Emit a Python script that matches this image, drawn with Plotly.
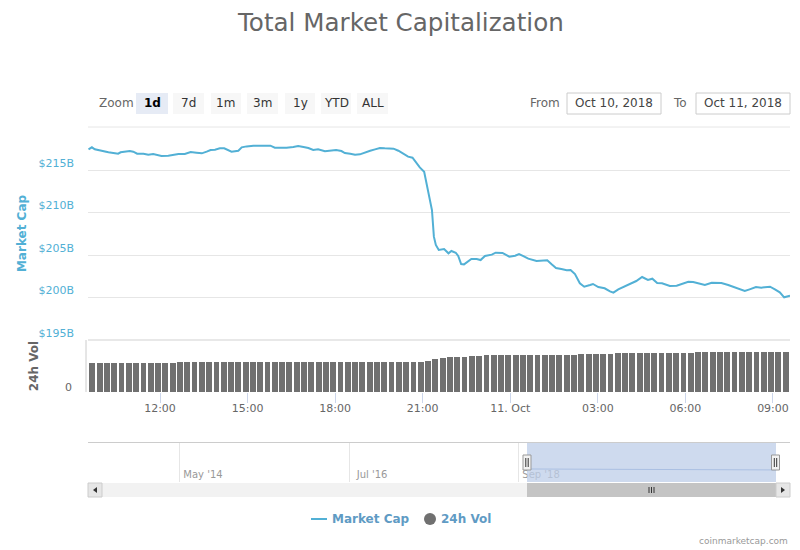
import pandas as pd
import plotly.graph_objects as go

# ---------- data ----------
cap_times_oct10 = ["09:33","09:40","09:46","09:57","10:04","10:14","10:24","10:34","10:39","10:48","10:58","11:05","11:13","11:26","11:36","11:46","11:57","12:03","12:17","12:27","12:38","12:51","13:03","13:15","13:26","13:36","13:44","13:53","14:03","14:12","14:20","14:27","14:41","14:48","14:58","15:12","15:29","15:39","15:47","15:56","16:07","16:20","16:34","16:44","16:55","17:05","17:15","17:25","17:39","17:49","18:02","18:13","18:20","18:31","18:41","18:51","19:01","19:12","19:22","19:32","19:42","20:00","20:10","20:20","20:30","20:39","20:48","20:54","21:03","21:08","21:15","21:19","21:23","21:27","21:33","21:44","21:53","21:59","22:08","22:13","22:19","22:25","22:40","22:51","22:59","23:08","23:22","23:30","23:44","23:58"]
cap_values_oct10 = [217.43,217.67,217.43,217.27,217.23,217.08,217.0,216.92,217.08,217.12,217.23,217.16,216.92,216.92,216.8,216.88,216.76,216.65,216.69,216.76,216.88,216.88,217.12,217.04,216.96,217.16,217.35,217.39,217.55,217.55,217.35,217.16,217.27,217.67,217.78,217.86,217.86,217.82,217.86,217.63,217.59,217.63,217.71,217.82,217.71,217.59,217.35,217.43,217.2,217.23,217.35,217.23,217.0,216.92,216.8,216.84,217.08,217.27,217.43,217.59,217.55,217.51,217.27,216.96,216.57,216.45,215.71,215.31,214.8,213.43,211.47,210.29,207.16,206.18,205.59,205.71,205.2,205.47,205.27,204.88,203.94,203.9,204.53,204.53,204.41,204.88,205.04,205.27,205.25,204.8]
cap_times_oct11 = ["00:10","00:18","00:27","00:37","00:54","01:08","01:16","01:25","01:34","01:45","01:56","02:04","02:13","02:23","02:32","02:44","02:50","03:01","03:14","03:25","03:32","03:42","03:52","04:06","04:19","04:31","04:43","04:52","05:02","05:12","05:28","05:42","05:52","06:06","06:16","06:26","06:40","06:54","07:14","07:28","07:45","08:02","08:12","08:25","08:36","08:54","09:04","09:14","09:23","09:35"]
cap_values_oct11 = [204.92,205.12,204.88,204.57,204.29,204.29,204.37,203.9,203.47,203.35,203.2,203.24,202.76,201.67,201.27,201.47,201.59,201.23,201.08,200.72,200.57,200.96,201.2,201.59,201.94,202.41,202.06,202.21,201.7,201.67,201.35,201.39,201.59,201.86,201.82,201.67,201.47,201.74,201.7,201.47,201.16,200.76,200.96,201.23,201.16,201.27,200.96,200.61,200.02,200.22]

vol_values = [11.05,11.05,11.05,11.05,11.05,11.05,11.05,11.05,11.05,11.05,11.05,11.05,
              11.4,11.4,11.4,11.4,11.4,11.4,11.4,11.4,11.4,11.4,11.4,11.4,11.4,11.4,11.4,11.4,11.4,
              11.4,11.4,11.4,11.4,11.4,11.4,11.4,11.4,11.4,11.4,11.4,11.4,11.4,11.4,11.4,11.4,11.4,
              11.9,12.7,13.1,13.46,13.65,13.65,13.85,13.85,14.05,
              14.2,14.2,14.2,14.2,14.2,14.2,14.2,14.2,14.2,14.2,14.2,14.2,
              14.6,14.6,14.6,14.6,14.6,
              15.1,15.1,15.1,15.1,15.1,15.1,15.1,15.1,15.1,15.1,15.1,
              15.45,15.45,15.45,15.45,15.45,15.45,15.45,15.45,15.45,15.45,15.45,15.45,15.45]

x_tick_times = ["2018-10-10 12:00","2018-10-10 15:00","2018-10-10 18:00","2018-10-10 21:00","2018-10-11 00:00","2018-10-11 03:00","2018-10-11 06:00","2018-10-11 09:00"]
x_tick_labels = ["12:00","15:00","18:00","21:00","11. Oct","03:00","06:00","09:00"]
cap_ticks = [195,200,205,210,215,220]
cap_labels = ["$195B","$200B","$205B","$210B","$215B",""]

nav_times = ["2018-10-13","2020-05-20","2021-12-23"]
nav_values = [217,210,201]
nav_ticks = ["2014-05-01","2016-07-01","2018-09-01"]
nav_labels = ["May '14","Jul '16","Sep '18"]
range_buttons = ["1d","7d","1m","3m","1y","YTD","ALL"]
button_left = [136,173,211,247,285,321,357]
button_right = [168,204,241,278,315,351,388]

# ---------- helpers ----------
FONT = "DejaVu Sans"
PX = lambda x: x / 800
PY = lambda y: 1 - y / 550
cap_x = [f"2018-10-10 {t}" for t in cap_times_oct10] + [f"2018-10-11 {t}" for t in cap_times_oct11]
cap_y = cap_values_oct10 + cap_values_oct11
vol_x = pd.date_range("2018-10-10 09:41", periods=len(vol_values), freq="15min")

fig = go.Figure()
fig.add_trace(go.Scatter(x=cap_x, y=cap_y, mode="lines", name="Market Cap",
                         line=dict(color="#52b0d5", width=2), xaxis="x", yaxis="y"))
fig.add_trace(go.Bar(x=vol_x, y=vol_values, name="24h Vol", marker=dict(color="#707070", line_width=0),
                     width=720000, xaxis="x2", yaxis="y2"))
fig.add_trace(go.Scatter(x=nav_times, y=nav_values, mode="lines",
                         line=dict(color="#6f93cf", width=1), xaxis="x3", yaxis="y3"))

shapes, annots = [], []
def rect(x0, y0, x1, y1, fill, line=None, w=1):
    shapes.append(dict(type="rect", xref="paper", yref="paper", x0=PX(x0), x1=PX(x1), y0=PY(y0), y1=PY(y1),
                       fillcolor=fill, line=dict(color=line or fill, width=w if line else 0), layer="above"))
def seg(x0, y0, x1, y1, color, w=1):
    shapes.append(dict(type="line", xref="paper", yref="paper", x0=PX(x0), x1=PX(x1), y0=PY(y0), y1=PY(y1),
                       line=dict(color=color, width=w), layer="above"))
def text(x, y, s, size=12, color="#666666", anchor="center", bold=False):
    annots.append(dict(xref="paper", yref="paper", x=PX(x), y=PY(y), text=f"<b>{s}</b>" if bold else s,
                       showarrow=False, xanchor=anchor, yanchor="middle",
                       font=dict(family=FONT, size=size, color=color)))

# title and credit
text(400, 22, "Total Market Capitalization", size=24.6, color="#666666")
text(790, 541, "coinmarketcap.com", size=9, color="#999999", anchor="right")

# range selector
text(97, 103, "Zoom", size=12, anchor="left")
for i, b in enumerate(range_buttons):
    rect(button_left[i], 93, button_right[i], 114, "#e6ebf5" if i == 0 else "#f7f7f7")
    text((button_left[i] + button_right[i]) / 2, 103, b, size=12, color="#000000" if i == 0 else "#333333", bold=i == 0)

# date inputs
text(545, 103, "From", size=12)
text(680, 103, "To", size=12)
rect(567, 93, 661, 114, "#ffffff", "#cccccc")
rect(696, 93, 790, 114, "#ffffff", "#cccccc")
text(614, 103, "Oct 10, 2018", size=12, color="#444444")
text(743, 103, "Oct 11, 2018", size=12, color="#444444")

# edge gridlines and volume panel left rule
seg(88, 127, 790, 127, "#e6e6e6")
seg(88, 340, 790, 340, "#e0e0e0", 1.5)
seg(86, 340, 86, 392, "#cccccc")

# navigator
seg(88, 442.5, 790, 442.5, "#cccccc")
rect(527, 443, 776, 482, "rgba(190,206,232,0.75)")
for hx in (527, 775.5):
    rect(hx - 4, 455, hx + 4, 470, "#f2f2f2", "#999999")
    seg(hx - 1.2, 458, hx - 1.2, 467, "#333333")
    seg(hx + 1.2, 458, hx + 1.2, 467, "#333333")

# scrollbar
rect(88, 483, 790, 497, "#f2f2f2")
rect(527, 483, 776, 497, "#c4c4c4")
rect(88, 483, 102, 497, "#e6e6e6", "#cccccc")
rect(776, 483, 790, 497, "#e6e6e6", "#cccccc")
for gx in (649, 651.5, 654):
    seg(gx, 487, gx, 493, "#333333")
shapes.append(dict(type="path", xref="paper", yref="paper", layer="above",
                   path=f"M {PX(97)} {PY(487)} L {PX(97)} {PY(493)} L {PX(93)} {PY(490)} Z",
                   fillcolor="#333333", line_width=0))
shapes.append(dict(type="path", xref="paper", yref="paper", layer="above",
                   path=f"M {PX(781)} {PY(487)} L {PX(781)} {PY(493)} L {PX(785)} {PY(490)} Z",
                   fillcolor="#333333", line_width=0))

# legend
seg(311, 519, 327, 519, "#52b0d5", 2)
text(330, 519, "Market Cap", size=12, color="#5f9bc4", anchor="left", bold=True)
shapes.append(dict(type="circle", xref="paper", yref="paper", x0=PX(424), x1=PX(436), y0=PY(525), y1=PY(513),
                   fillcolor="#707070", line_width=0, layer="above"))
text(439, 519, "24h Vol", size=12, color="#5f9bc4", anchor="left", bold=True)

time_range = ["2018-10-10 09:32", "2018-10-11 09:35"]
fig.update_layout(
    width=800, height=550, autosize=False,
    margin=dict(l=0, r=0, t=0, b=0, autoexpand=False),
    paper_bgcolor="#ffffff", plot_bgcolor="#ffffff",
    font=dict(family=FONT),
    bargap=0, hovermode=False, showlegend=False,
    shapes=shapes, annotations=annots,
    xaxis=dict(domain=[PX(88), PX(790)], range=time_range, type="date", anchor="y", automargin=False,
               showticklabels=False, showgrid=False, ticks="", zeroline=False),
    yaxis=dict(domain=[PY(340), PY(127)], range=[195, 220.06], anchor="x", automargin=False,
               tickvals=cap_ticks, ticktext=cap_labels, ticklabelshift=-7, ticklabelstandoff=13,
               tickfont=dict(family=FONT, size=11, color="#52b0d5"),
               gridcolor="#e6e6e6", gridwidth=1, zeroline=False, showline=False, ticks="",
               title=dict(text="<b>Market Cap</b>", font=dict(family=FONT, size=12, color="#52b0d5"), standoff=9)),
    xaxis2=dict(domain=[PX(88), PX(790)], range=time_range, type="date", anchor="y2", matches="x", automargin=False,
                tickvals=x_tick_times, ticktext=x_tick_labels, ticks="outside", ticklen=10, ticklabelstandoff=-4,
                tickcolor="#ccd6eb", tickwidth=1, showgrid=False, zeroline=False, showline=False,
                tickfont=dict(family=FONT, size=11, color="#666666")),
    yaxis2=dict(domain=[PY(392), PY(340)], range=[0, 20], anchor="x2", automargin=False,
                tickvals=[0], ticktext=["0"], ticklabelshift=-5, ticklabelstandoff=15,
                showgrid=False, zeroline=False, ticks="",
                tickfont=dict(family=FONT, size=11, color="#666666"),
                title=dict(text="<b>24h Vol</b>", font=dict(family=FONT, size=12, color="#666666"), standoff=23)),
    xaxis3=dict(domain=[PX(88), PX(790)], range=["2013-02-24", "2022-02-26"], type="date", anchor="y3", automargin=False,
                tickvals=nav_ticks, ticktext=nav_labels, ticks="", showline=False,
                gridcolor="#e6e6e6", showgrid=True, zeroline=False, ticklabelstandoff=-15, ticklabelshift=23,
                tickfont=dict(family=FONT, size=10, color="#999999")),
    yaxis3=dict(domain=[PY(482), PY(443)], range=[0, 650], anchor="x3", showgrid=False, automargin=False,
                showticklabels=False, zeroline=False, ticks=""),
)
fig.write_html("out.html", config={"displayModeBar": False},
               post_script="document.body.style.margin='0';")
